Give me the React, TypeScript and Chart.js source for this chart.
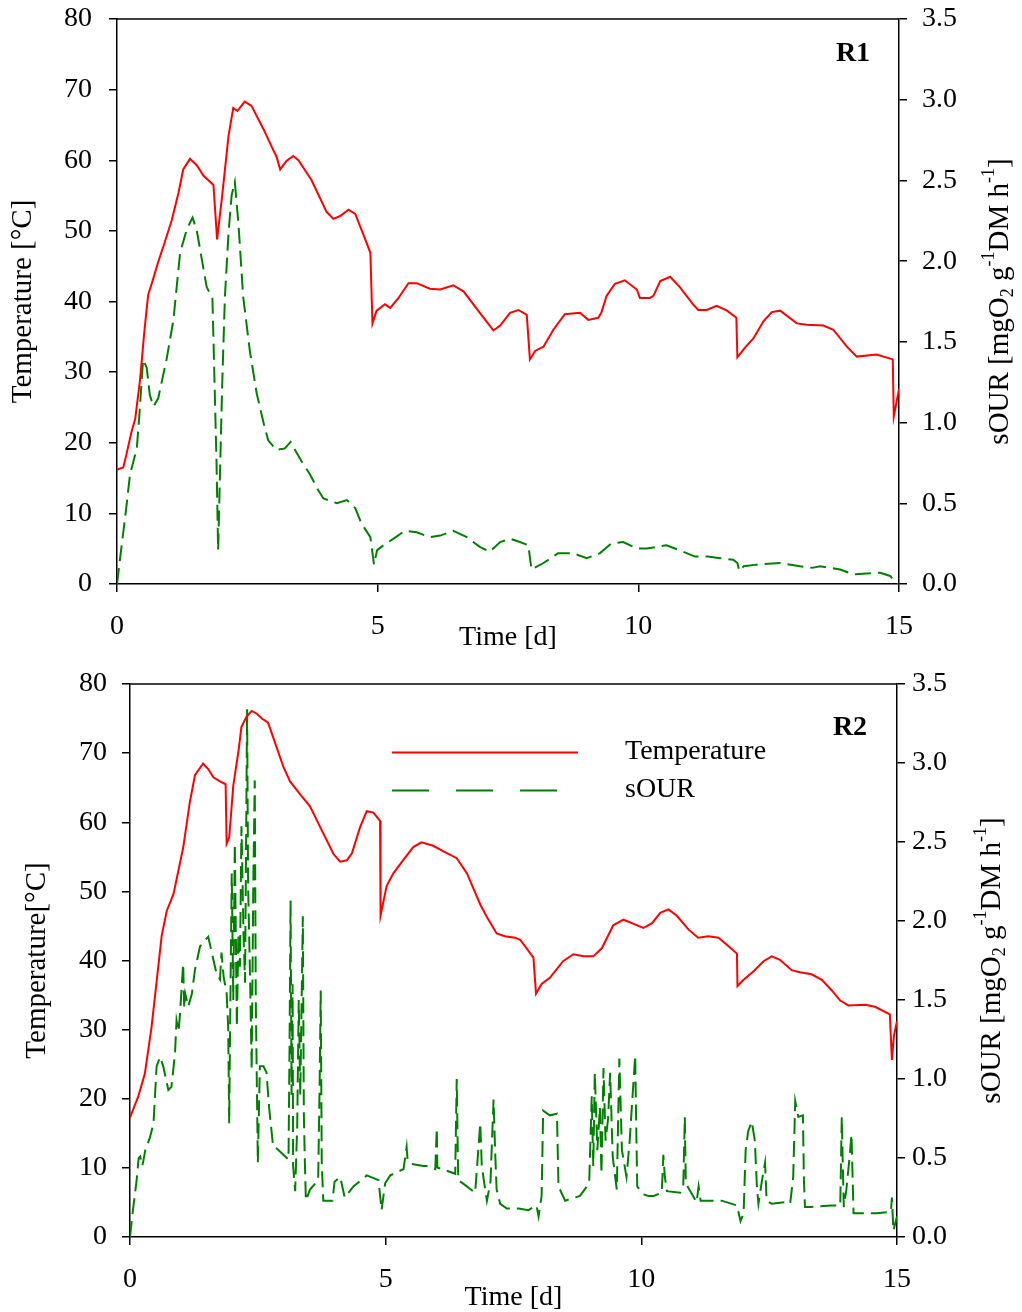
import React, { useEffect, useRef } from "react";
import { Chart, registerables } from "chart.js";

Chart.register(...registerables);

const FONT = "'Liberation Serif', 'Times New Roman', serif";

// ---------- Tick labels ----------
const timeTicks = [0, 5, 10, 15];
const tempTicks = [0, 10, 20, 30, 40, 50, 60, 70, 80];
const sourTicks = [0, 0.5, 1.0, 1.5, 2.0, 2.5, 3.0, 3.5];

// ---------- R1 ----------
const r1TempTime = [
  0, 0.12, 0.17, 0.28, 0.35, 0.44, 0.47, 0.52, 0.57, 0.6, 0.67, 0.79, 0.92, 1.05, 1.18, 1.27, 1.4, 1.53, 1.66,
  1.85, 1.92, 2.01, 2.14, 2.23, 2.31, 2.45, 2.58, 2.81, 3.0, 3.06, 3.13, 3.25, 3.38, 3.48, 3.73, 4.02, 4.15,
  4.28, 4.44, 4.57, 4.73, 4.86, 4.9, 4.98, 5.14, 5.24, 5.4, 5.59, 5.75, 6.0, 6.2, 6.45, 6.65, 6.96, 7.22,
  7.35, 7.54, 7.7, 7.86, 7.92, 8.02, 8.18, 8.37, 8.59, 8.88, 9.04, 9.23, 9.29, 9.39, 9.55, 9.74, 9.97, 10.03,
  10.22, 10.29, 10.42, 10.61, 10.8, 11.05, 11.15, 11.31, 11.5, 11.7, 11.88, 11.9, 12.05, 12.21, 12.4, 12.56,
  12.72, 13.04, 13.23, 13.55, 13.74, 14.0, 14.19, 14.57, 14.88, 14.9, 15.0,
];
const r1Temperature = [
  16.2, 16.5, 18, 21.6, 23.4, 28.8, 31.2, 35.4, 39.0, 41.0, 42.6, 45.6, 48.5, 51.5, 55.4, 58.7, 60.2, 59.3, 57.8,
  56.5, 48.8, 54.5, 63.5, 67.4, 67.0, 68.3, 67.7, 64.4, 61.4, 60.5, 58.7, 59.9, 60.6, 60.0, 57.2, 52.7, 51.7,
  52.1, 53.0, 52.4, 49.4, 46.9, 36.9, 38.7, 39.6, 39.1, 40.5, 42.6, 42.6, 41.8, 41.7, 42.3, 41.4, 38.4, 35.9,
  36.6, 38.4, 38.8, 38.1, 31.8, 33.0, 33.6, 36.0, 38.2, 38.4, 37.4, 37.7, 38.4, 40.8, 42.5, 43.0, 41.7, 40.5,
  40.5, 40.8, 42.9, 43.5, 42.0, 39.6, 38.8, 38.8, 39.4, 38.7, 37.7, 32.1, 33.5, 34.8, 37.2, 38.5,
  38.7, 36.9, 36.7, 36.6, 36.0, 33.6, 32.2, 32.5, 31.8, 23.7, 27.6,
];
const r1SourTime = [
  0, 0.09, 0.17, 0.25, 0.38, 0.43, 0.5, 0.57, 0.63, 0.7, 0.79, 0.95, 1.08, 1.21, 1.34, 1.45, 1.53, 1.72, 1.83,
  1.85, 1.91, 1.94, 1.98, 2.02, 2.07, 2.14, 2.2, 2.26, 2.33, 2.42, 2.55, 2.68, 2.81, 2.9, 3.06, 3.22, 3.33,
  3.38, 3.54, 3.7, 3.86, 3.96, 4.22, 4.41, 4.57, 4.67, 4.76, 4.86, 4.93, 4.99, 5.11, 5.3, 5.52, 5.75, 6.0,
  6.2, 6.45, 6.71, 6.96, 7.15, 7.35, 7.54, 7.73, 7.89, 7.95, 8.18, 8.46, 8.75, 9.01, 9.26, 9.48, 9.71, 9.97,
  10.16, 10.54, 10.86, 11.09, 11.34, 11.57, 11.82, 11.9, 11.94, 12.02, 12.27, 12.72, 13.1, 13.33, 13.49,
  13.87, 14.12, 14.64, 14.83, 14.93, 14.97,
];
const r1Sour = [
  0, 0.24, 0.45, 0.68, 0.84, 1.05, 1.39, 1.34, 1.17, 1.1, 1.15, 1.39, 1.63, 2.05, 2.2, 2.27, 2.19, 1.84, 1.77,
  1.52, 0.74, 0.21, 0.74, 1.26, 1.78, 2.18, 2.41, 2.49, 2.23, 1.78, 1.44, 1.18, 1.0, 0.89, 0.83, 0.84, 0.88,
  0.85, 0.76, 0.68, 0.58, 0.53, 0.5, 0.52, 0.47, 0.39, 0.34, 0.29, 0.12, 0.21, 0.24, 0.28, 0.33, 0.32, 0.29,
  0.3, 0.33, 0.29, 0.23, 0.2, 0.26, 0.28, 0.26, 0.24, 0.09, 0.13, 0.19, 0.19, 0.16, 0.19, 0.25, 0.26, 0.22,
  0.22, 0.24, 0.2, 0.17, 0.17, 0.16, 0.15, 0.13, 0.08, 0.11, 0.12, 0.13, 0.11, 0.1, 0.11,
  0.09, 0.06, 0.07, 0.05, 0.01, 0,
];

// ---------- R2 ----------
const r2TempTime = [
  0, 0.16, 0.29, 0.42, 0.52, 0.62, 0.72, 0.85, 1.04, 1.17, 1.27, 1.43, 1.53, 1.63, 1.76, 1.87, 1.89, 1.94,
  2.02, 2.12, 2.18, 2.28, 2.38, 2.48, 2.58, 2.7, 2.87, 3.0, 3.13, 3.32, 3.52, 3.72, 3.98, 4.11, 4.24, 4.34,
  4.5, 4.63, 4.76, 4.89, 4.9, 5.02, 5.15, 5.35, 5.54, 5.7, 5.93, 6.13, 6.39, 6.59, 6.85, 6.98, 7.17, 7.33,
  7.53, 7.63, 7.89, 7.94, 8.05, 8.21, 8.47, 8.67, 8.87, 9.06, 9.23, 9.45, 9.65, 9.85, 10.04, 10.21, 10.37,
  10.53, 10.69, 10.92, 11.11, 11.31, 11.51, 11.7, 11.87, 11.88, 12.0, 12.19, 12.39, 12.55, 12.71, 12.94,
  13.1, 13.33, 13.53, 13.72, 13.89, 14.05, 14.38, 14.57, 14.86, 14.9, 14.94, 15.0,
];
const r2Temperature = [
  17.3, 20.3, 23.6, 30.3, 36.9, 43.6, 47.2, 49.6, 56.3, 62.9, 66.8, 68.5, 67.7, 66.5, 65.9, 65.5, 56.9, 57.8,
  65.3, 70.2, 73.8, 75.3, 76.1, 75.7, 75.0, 74.4, 70.8, 68.0, 65.9, 64.1, 62.3, 59.3, 55.4, 54.3, 54.5, 55.5,
  59.3, 61.6, 61.4, 60.2, 46.5, 50.8, 52.6, 54.6, 56.4, 57.1, 56.6, 55.8, 54.8, 52.6, 48.1, 46.3, 43.9, 43.5,
  43.3, 43.0, 40.4, 35.2, 36.6, 37.5, 39.9, 40.9, 40.6, 40.6, 41.8, 45.1, 45.9, 45.3, 44.7, 45.4, 46.9,
  47.4, 46.5, 44.5, 43.3, 43.5, 43.3, 42.1, 41.0, 36.3, 37.2, 38.4, 39.9, 40.6, 40.1, 38.6,
  38.3, 38.0, 37.2, 35.7, 34.2, 33.5, 33.6, 33.3, 32.2, 25.6, 29.1, 31.2,
];
const r2SourTime = [
  0, 0.05, 0.13, 0.17, 0.2, 0.24, 0.26, 0.3, 0.39, 0.46, 0.52, 0.59, 0.65, 0.75, 0.81, 0.88, 0.91, 0.95, 0.98,
  1.01, 1.04, 1.06, 1.08, 1.14, 1.21, 1.27, 1.37, 1.43, 1.47, 1.53, 1.6, 1.69, 1.76, 1.79, 1.83, 1.89, 1.92,
  1.94, 1.96, 1.99, 2.02, 2.05, 2.09, 2.12, 2.15, 2.18, 2.22, 2.25, 2.29, 2.31, 2.35, 2.38, 2.41, 2.44, 2.46,
  2.5, 2.54, 2.61, 2.67, 2.72, 2.8, 2.87, 3.1, 3.12, 3.14, 3.16, 3.18, 3.19, 3.23, 3.27, 3.3, 3.33, 3.38,
  3.4, 3.42, 3.44, 3.52, 3.68, 3.71, 3.73, 3.75, 3.78, 3.91, 3.96, 4.0, 4.11, 4.2, 4.37, 4.63, 4.86, 4.92,
  4.99, 5.09, 5.35, 5.41, 5.43, 5.54, 5.74, 5.83, 5.97, 6.0, 6.01, 6.36, 6.39, 6.41, 6.42, 6.55, 6.75, 6.8,
  6.85, 6.88, 6.91, 6.98, 7.05, 7.11, 7.14, 7.17, 7.24, 7.37, 7.6, 7.79, 7.95, 7.99, 8.05, 8.08, 8.21, 8.35,
  8.38, 8.51, 8.8, 8.98, 9.03, 9.06, 9.09, 9.14, 9.19, 9.22, 9.26, 9.3, 9.35, 9.39, 9.44, 9.52, 9.57, 9.62,
  9.71, 9.77, 9.88, 9.9, 9.92, 10.04, 10.14, 10.24, 10.4, 10.43, 10.46, 10.5, 10.76, 10.82, 10.85, 10.87,
  11.08, 11.12, 11.16, 11.57, 11.87, 11.94, 12.0, 12.04, 12.09, 12.16, 12.22, 12.26, 12.29, 12.36, 12.42,
  12.45, 12.55, 12.81, 12.91, 12.97, 13.01, 13.07, 13.16, 13.18, 13.2, 13.33, 13.72, 13.89, 13.92, 13.94,
  13.96, 14.01, 14.08, 14.11, 14.15, 14.34, 14.6, 14.88, 14.9, 14.93, 15.0,
];
const r2Sour = [
  0, 0.15, 0.36, 0.5, 0.51, 0.45, 0.48, 0.55, 0.63, 0.72, 1.08, 1.14, 1.08, 0.93, 0.95, 1.16, 1.37, 1.3, 1.42,
  1.58, 1.73, 1.45, 1.54, 1.46, 1.54, 1.69, 1.84, 1.86, 1.88, 1.9, 1.8, 1.67, 1.63, 1.8, 1.65, 1.54, 1.33,
  0.72, 1.4, 2.3, 1.5, 2.49, 1.33, 1.92, 1.71, 2.6, 1.92, 1.61, 3.34, 2.22, 1.61, 1.06, 2.2, 2.89, 1.5,
  0.47, 1.08, 1.08, 1.04, 0.82, 0.57, 0.56, 0.49, 1.2, 2.13, 0.9, 1.6, 0.45, 0.29, 0.7, 1.5, 0.9, 2.03,
  0.78, 0.47, 0.23, 0.3, 0.36, 1.0, 1.56, 0.47, 0.23, 0.23, 0.23, 0.35, 0.38, 0.25, 0.32, 0.39, 0.36, 0.17,
  0.34, 0.39, 0.43, 0.57, 0.48, 0.46, 0.45, 0.45, 0.43, 0.69, 0.44, 0.4, 1.0, 0.55, 0.36, 0.33, 0.28, 0.5,
  0.72, 0.45, 0.38, 0.23, 0.35, 0.87, 0.55, 0.3, 0.21, 0.18, 0.18, 0.17, 0.2, 0.13, 0.26, 0.8, 0.77, 0.78,
  0.32, 0.23, 0.26, 0.34, 0.89, 0.45, 1.04, 0.55, 0.82, 0.4, 1.07, 0.61, 0.75, 1.04, 0.51, 0.3, 1.13, 0.55,
  0.38, 0.6, 1.15, 0.7, 0.32, 0.27, 0.26, 0.26, 0.28, 0.52, 0.38, 0.29, 0.28, 0.32, 0.76, 0.34,
  0.22, 0.32, 0.23, 0.23, 0.2, 0.1, 0.15, 0.55, 0.67, 0.73, 0.61, 0.32, 0.21, 0.36, 0.47,
  0.23, 0.21, 0.22, 0.21, 0.38, 0.86, 0.76, 0.77, 0.36, 0.19, 0.19, 0.2, 0.2, 0.76, 0.45,
  0.19, 0.3, 0.53, 0.65, 0.15, 0.15, 0.15, 0.16, 0.25, 0.04, 0.13,
];

const seriesNames = ["Temperature", "sOUR"];
const panelLabels = ["R1", "R2"];
const tempTitles = ["Temperature [°C]", "Temperature[°C]"];
const timeTitle = "Time [d]";

type Seg = { t: string; k: "n" | "sup" | "sub" };
const sourTitle: Seg[] = [
  { t: "sOUR [mgO", k: "n" },
  { t: "2", k: "sub" },
  { t: " g", k: "n" },
  { t: "-1", k: "sup" },
  { t: "DM h", k: "n" },
  { t: "-1", k: "sup" },
  { t: "]", k: "n" },
];

const RED = "#ff0000";
const GREEN = "#008000";

function pts(t: number[], v: number[]) {
  return t.map((x, i) => ({ x, y: v[i] }));
}

type Layout = {
  width: number;
  height: number;
  padTop: number;
  leftW: number;
  rightW: number;
  xAxisH: number;
  leftTickPad: number;
  rightTickPad: number;
  leftTitlePad: number;
  xTitlePadBottom: number;
  rightTitleX: number;
  labelX: number;
  labelY: number;
  legend: boolean;
};

function drawRich(ctx: CanvasRenderingContext2D, cx: number, cy: number, segs: Seg[], size: number) {
  const small = Math.round(size * 0.62);
  ctx.save();
  ctx.translate(cx, cy);
  ctx.rotate(-Math.PI / 2);
  ctx.textBaseline = "middle";
  ctx.textAlign = "left";
  ctx.fillStyle = "#000";
  const widths = segs.map((s) => {
    ctx.font = `${s.k === "n" ? size : small}px ${FONT}`;
    return ctx.measureText(s.t).width;
  });
  const total = widths.reduce((a, b) => a + b, 0);
  let x = -total / 2;
  segs.forEach((s, i) => {
    ctx.font = `${s.k === "n" ? size : small}px ${FONT}`;
    const dy = s.k === "sup" ? -size * 0.38 : s.k === "sub" ? size * 0.3 : 0;
    ctx.fillText(s.t, x, dy);
    x += widths[i];
  });
  ctx.restore();
}

function zeroPad(s: any) {
  s.paddingTop = 0;
  s.paddingBottom = 0;
  s.paddingLeft = 0;
  s.paddingRight = 0;
}

function makeChart(canvas: HTMLCanvasElement, idx: number, L: Layout, tT: number[], tV: number[], sT: number[], sV: number[]) {
  const decor = {
    id: "decor" + idx,
    afterDraw(chart: any) {
      const ctx: CanvasRenderingContext2D = chart.ctx;
      const a = chart.chartArea;
      ctx.save();
      ctx.strokeStyle = "#000";
      ctx.lineWidth = 1.5;
      ctx.beginPath();
      ctx.moveTo(a.left, a.top);
      ctx.lineTo(a.right, a.top);
      ctx.stroke();
      ctx.fillStyle = "#000";
      ctx.font = `bold 28px ${FONT}`;
      ctx.textAlign = "center";
      ctx.textBaseline = "middle";
      ctx.fillText(panelLabels[idx], L.labelX, L.labelY);
      if (L.legend) {
        ctx.lineWidth = 2;
        ctx.strokeStyle = RED;
        ctx.setLineDash([]);
        ctx.beginPath();
        ctx.moveTo(392, 92.5);
        ctx.lineTo(578, 92.5);
        ctx.stroke();
        ctx.strokeStyle = GREEN;
        ctx.setLineDash([37, 27]);
        ctx.beginPath();
        ctx.moveTo(392, 130.5);
        ctx.lineTo(558, 130.5);
        ctx.stroke();
        ctx.setLineDash([]);
        ctx.font = `28px ${FONT}`;
        ctx.textAlign = "left";
        ctx.fillText(seriesNames[0], 625, 92);
        ctx.fillText(seriesNames[1], 625, 130);
      }
      ctx.restore();
      drawRich(ctx, L.rightTitleX, (a.top + a.bottom) / 2, sourTitle, 29);
    },
  };

  const tickFont = { family: FONT, size: 28 };
  const grid = { drawOnChartArea: false, drawTicks: true, tickLength: 8, color: "#000", lineWidth: 1.5 };
  const border = { display: true, color: "#000", width: 1.5 };

  return new Chart(canvas, {
    type: "line",
    data: {
      datasets: [
        {
          label: seriesNames[0],
          data: pts(tT, tV),
          yAxisID: "yT",
          borderColor: RED,
          borderWidth: 2,
          pointRadius: 0,
          tension: 0,
          fill: false,
        },
        {
          label: seriesNames[1],
          data: pts(sT, sV),
          yAxisID: "yS",
          borderColor: GREEN,
          borderWidth: 2,
          borderDash: [16, 7],
          pointRadius: 0,
          tension: 0,
          fill: false,
        },
      ],
    },
    options: {
      responsive: false,
      animation: false,
      devicePixelRatio: 1,
      layout: { padding: { top: L.padTop, left: 0, right: 0, bottom: 0 }, autoPadding: false },
      plugins: { legend: { display: false }, tooltip: { enabled: false } },
      scales: {
        x: {
          type: "linear",
          min: 0,
          max: 15,
          afterBuildTicks: (s: any) => {
            s.ticks = timeTicks.map((v) => ({ value: v }));
          },
          afterFit: (s: any) => {
            s.height = L.xAxisH;
            zeroPad(s);
          },
          ticks: { font: tickFont, color: "#000", padding: 18, maxRotation: 0, autoSkip: false, callback: (v: any) => String(v) },
          grid,
          border,
          title: { display: true, text: timeTitle, color: "#000", font: { family: FONT, size: 28 }, padding: { top: 0, bottom: L.xTitlePadBottom } },
        },
        yT: {
          type: "linear",
          position: "left",
          min: 0,
          max: 80,
          afterBuildTicks: (s: any) => {
            s.ticks = tempTicks.map((v) => ({ value: v }));
          },
          afterFit: (s: any) => {
            s.width = L.leftW;
            zeroPad(s);
          },
          ticks: { font: tickFont, color: "#000", padding: L.leftTickPad, autoSkip: false, callback: (v: any) => String(v) },
          grid,
          border,
          title: { display: true, text: tempTitles[idx], color: "#000", font: { family: FONT, size: 29 }, padding: { top: L.leftTitlePad, bottom: 0 } },
        },
        yS: {
          type: "linear",
          position: "right",
          min: 0,
          max: 3.5,
          afterBuildTicks: (s: any) => {
            s.ticks = sourTicks.map((v) => ({ value: v }));
          },
          afterFit: (s: any) => {
            s.width = L.rightW;
            zeroPad(s);
          },
          ticks: { font: tickFont, color: "#000", padding: L.rightTickPad, autoSkip: false, callback: (v: any) => Number(v).toFixed(1) },
          grid,
          border,
        },
      },
    },
    plugins: [decor],
  } as any);
}

const topLayout: Layout = {
  width: 1022,
  height: 660,
  padTop: 19,
  leftW: 117,
  rightW: 123,
  xAxisH: 76,
  leftTickPad: 17,
  rightTickPad: 15,
  leftTitlePad: 6,
  xTitlePadBottom: 6,
  rightTitleX: 1000,
  labelX: 853,
  labelY: 54,
  legend: false,
};

const bottomLayout: Layout = {
  width: 1022,
  height: 652,
  padTop: 24,
  leftW: 130,
  rightW: 125,
  xAxisH: 75,
  leftTickPad: 15,
  rightTickPad: 7,
  leftTitlePad: 20,
  xTitlePadBottom: -2,
  rightTitleX: 992,
  labelX: 850,
  labelY: 68,
  legend: true,
};

export default function App() {
  const topRef = useRef<HTMLCanvasElement>(null);
  const botRef = useRef<HTMLCanvasElement>(null);

  useEffect(() => {
    const c1 = makeChart(topRef.current!, 0, topLayout, r1TempTime, r1Temperature, r1SourTime, r1Sour);
    const c2 = makeChart(botRef.current!, 1, bottomLayout, r2TempTime, r2Temperature, r2SourTime, r2Sour);
    return () => {
      c1.destroy();
      c2.destroy();
    };
  }, []);

  return (
    <div style={{ position: "absolute", left: 0, top: 0, width: 1022, height: 1312, background: "#fff" }}>
      <canvas
        ref={topRef}
        width={topLayout.width}
        height={topLayout.height}
        style={{ position: "absolute", left: 0, top: 0, width: topLayout.width, height: topLayout.height }}
      />
      <canvas
        ref={botRef}
        width={bottomLayout.width}
        height={bottomLayout.height}
        style={{ position: "absolute", left: 0, top: 660, width: bottomLayout.width, height: bottomLayout.height }}
      />
    </div>
  );
}
